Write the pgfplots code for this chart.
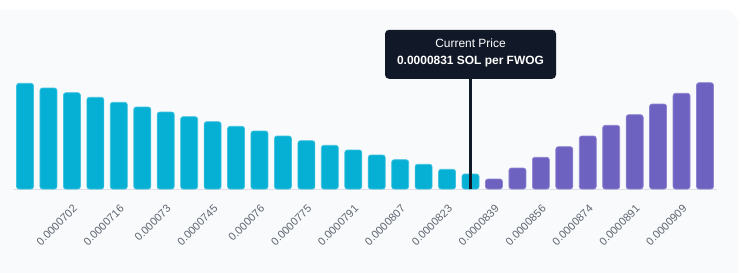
\documentclass[border=0pt]{standalone}
\usepackage{fontspec}
\setmainfont{Liberation Sans}
\usepackage{pgfplots}
\pgfplotsset{compat=1.18}
\definecolor{card}{HTML}{F8FAFC}
\definecolor{cyanbar}{HTML}{06B0D4}
\definecolor{cyanedge}{HTML}{3FC3E0}
\definecolor{purplebar}{HTML}{6E62C0}
\definecolor{purpleedge}{HTML}{8E84D2}
\definecolor{tipbg}{HTML}{111827}
\definecolor{ticktext}{HTML}{5F6670}
\definecolor{baseline}{HTML}{DCDFE5}
\begin{document}
\begin{tikzpicture}[x=1bp,y=1bp]
\useasboundingbox (0,0) rectangle (745,272);
\fill[white] (0,0) rectangle (745,272);
\fill[card, rounded corners=14bp] (-30,-30) rectangle (738,262);
\begin{axis}[
  at={(13.3bp,83bp)}, anchor=south west,
  scale only axis, width=703.4bp, height=120bp,
  xmin=-0.5, xmax=29.5, ymin=0, ymax=120,
  axis x line=bottom, axis y line=none,
  x axis line style={-, draw=baseline, line width=0.9bp},
  xtick={2,4,...,28},
  xticklabels={0.0000702,0.0000716,0.000073,0.0000745,0.000076,0.0000775,0.0000791,0.0000807,0.0000823,0.0000839,0.0000856,0.0000874,0.0000891,0.0000909},
  major tick length=0pt,
  xticklabel style={font=\fontsize{11}{13}\selectfont, text=ticktext, inner sep=1bp, xshift=4bp, yshift=-17bp, rotate=45, anchor=east},
  ytick=\empty,
  clip=false,
  ybar, bar width=17bp,
]
\addplot[fill=cyanbar, draw=cyanedge, line width=0.7bp, bar shift=0pt, rounded corners=2.5bp] coordinates {
(0,105.7) (1,101) (2,96.3) (3,91.7) (4,86.7) (5,82) (6,77) (7,72.3) (8,67.3) (9,62.7)
(10,58) (11,53) (12,48.3) (13,43.7) (14,39) (15,34) (16,29.3) (17,24.7) (18,19.7) (19,15)
};
\addplot[fill=purplebar, draw=purpleedge, line width=0.7bp, bar shift=0pt, rounded corners=2.5bp] coordinates {
(20,10) (21,21) (22,31.7) (23,42.3) (24,53) (25,63.7) (26,74.3) (27,85) (28,95.7) (29,106.3)
};
\addplot[sharp plot, draw=tipbg, line width=2.2bp, forget plot] coordinates {(19,0) (19,110)};
\node[fill=tipbg, rounded corners=4bp, minimum width=171bp, minimum height=49bp, anchor=south, inner sep=0pt] at (axis cs:19,110) {};
\node[text=white, anchor=base, inner sep=0pt, font=\fontsize{12}{14}\selectfont] at (axis cs:19,142) {Current Price};
\node[text=white, anchor=base, inner sep=0pt, font=\fontsize{12}{14}\selectfont\bfseries] at (axis cs:19,124.7) {0.0000831 SOL per FWOG};
\end{axis}
\end{tikzpicture}
\end{document}
